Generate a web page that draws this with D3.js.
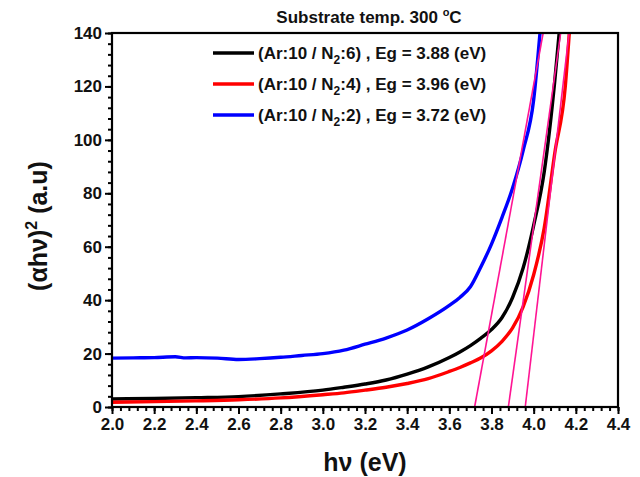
<!DOCTYPE html>
<html>
<head>
<meta charset="utf-8">
<script src="https://cdn.jsdelivr.net/npm/d3@7"></script>
<style>
  body { margin: 0; background: #fff; }
  text { font-family: "Liberation Sans", Arial, sans-serif; font-weight: bold; fill: #111; }
</style>
</head>
<body>
<div id="chart"></div>
<script>
var svgWidth = 640;
var svgHeight = 477;

var margin = { top: 33, right: 22, bottom: 70, left: 112 };

var width = svgWidth - margin.left - margin.right;
var height = svgHeight - margin.top - margin.bottom;

// data
var xN6 = [2.0, 2.2, 2.4, 2.6, 2.8, 3.0, 3.1, 3.2, 3.3, 3.4, 3.5, 3.6, 3.65, 3.7, 3.75, 3.8, 3.85, 3.9, 3.95, 4.0, 4.05, 4.1, 4.121];
var yN6 = [3.0, 3.2, 3.5, 3.9, 4.9, 6.3, 7.4, 8.6, 10.1, 12.3, 15.0, 18.5, 20.6, 23.0, 25.8, 29.0, 33.5, 41.0, 52.0, 68.0, 88.0, 122.0, 140.0];

var xN4 = [2.0, 2.2, 2.4, 2.6, 2.8, 3.0, 3.1, 3.2, 3.3, 3.4, 3.5, 3.6, 3.65, 3.7, 3.75, 3.8, 3.85, 3.9, 3.95, 4.0, 4.05, 4.1, 4.15, 4.169];
var yN4 = [1.8, 2.0, 2.3, 2.7, 3.4, 4.6, 5.3, 6.3, 7.4, 8.8, 10.6, 13.3, 14.8, 16.5, 18.4, 21.0, 24.6, 29.6, 37.5, 49.5, 67.0, 95.0, 120.0, 140.0];

var xN2 = [2.0, 2.1, 2.2, 2.3, 2.35, 2.4, 2.5, 2.6, 2.7, 2.8, 2.9, 3.0, 3.1, 3.2, 3.3, 3.4, 3.5, 3.6, 3.65, 3.7, 3.75, 3.8, 3.85, 3.9, 3.95, 4.0, 4.03];
var yN2 = [18.3, 18.4, 18.5, 18.8, 18.4, 18.5, 18.3, 17.8, 18.1, 18.6, 19.3, 20.0, 21.3, 23.5, 25.8, 28.8, 33.0, 38.0, 41.0, 45.0, 52.5, 61.0, 71.0, 82.0, 96.0, 115.0, 140.0];

var seriesNames = ["(Ar:10 / N|2|:6) , Eg = 3.88 (eV)", "(Ar:10 / N|2|:4) , Eg = 3.96 (eV)", "(Ar:10 / N|2|:2) , Eg = 3.72 (eV)"];
var seriesColors = ["#000000", "#ff0000", "#0000ff"];

// linear fits: x at zero and x where they leave the top of the frame
var fitStart = [3.88, 3.96, 3.72];
var fitEnd = [4.128, 4.168, 4.045];

var xTicks = [2.0, 2.2, 2.4, 2.6, 2.8, 3.0, 3.2, 3.4, 3.6, 3.8, 4.0, 4.2, 4.4];
var yTicks = [0, 20, 40, 60, 80, 100, 120, 140];

var svg = d3.select("#chart")
  .append("svg")
  .attr("width", svgWidth)
  .attr("height", svgHeight);

var Group = svg.append("g")
  .attr("transform", `translate(${margin.left}, ${margin.top})`);

var xScale = d3.scaleLinear().domain([2.0, 4.4]).range([0, width]);
var yScale = d3.scaleLinear().domain([0, 140]).range([height, 0]);

// minor ticks
var xAxisMinor = d3.axisBottom(xScale)
  .tickValues(d3.range(0, 61).map(i => 2.0 + i * 0.04))
  .tickSize(4).tickFormat("");
var yAxisMinor = d3.axisLeft(yScale)
  .tickValues(d3.range(0, 36).map(i => i * 4))
  .tickSize(4).tickFormat("");

Group.append("g").attr("transform", `translate(0, ${height})`).call(xAxisMinor);
Group.append("g").call(yAxisMinor);

var xAxis = d3.axisBottom(xScale).tickValues(xTicks).tickSize(7).tickPadding(4).tickFormat(d3.format(".1f"));
var yAxis = d3.axisLeft(yScale).tickValues(yTicks).tickSize(7).tickPadding(3);

Group.append("g").attr("class", "xaxis").attr("transform", `translate(0, ${height})`).call(xAxis);
Group.append("g").attr("class", "yaxis").call(yAxis);

Group.selectAll(".tick line").attr("stroke", "#000").attr("stroke-width", 2);
Group.selectAll(".domain").remove();
Group.selectAll(".tick text")
  .style("font-size", "17px")
  .style("font-family", "'Liberation Sans', Arial, sans-serif")
  .style("font-weight", "bold")
  .attr("fill", "#111");

// clip
svg.append("clipPath").attr("id", "plotclip")
  .append("rect").attr("x", 0).attr("y", 0).attr("width", width).attr("height", height);

var plot = Group.append("g").attr("clip-path", "url(#plotclip)");

var line = d3.line()
  .x(d => xScale(d[0]))
  .y(d => yScale(d[1]))
  .curve(d3.curveMonotoneX);

var curves = [
  { xs: xN2, ys: yN2, color: seriesColors[2] },
  { xs: xN6, ys: yN6, color: seriesColors[0] },
  { xs: xN4, ys: yN4, color: seriesColors[1] }
];

curves.forEach(function(c) {
  plot.append("path")
    .datum(c.xs.map((x, i) => [x, c.ys[i]]))
    .attr("fill", "none")
    .attr("stroke", c.color)
    .attr("stroke-width", 3.4)
    .attr("d", line);
});

// tangent lines
fitStart.forEach(function(x0, i) {
  plot.append("line")
    .attr("x1", xScale(x0)).attr("y1", yScale(0))
    .attr("x2", xScale(fitEnd[i])).attr("y2", yScale(140))
    .attr("stroke", "#ff1493")
    .attr("stroke-width", 1.6);
});

// frame
Group.append("rect")
  .attr("x", 0).attr("y", 0)
  .attr("width", width).attr("height", height)
  .attr("fill", "none")
  .attr("stroke", "#000")
  .attr("stroke-width", 2.2);

// legend
var legend = svg.append("g").attr("transform", "translate(213, 53)");
seriesNames.forEach(function(name, i) {
  var row = legend.append("g").attr("transform", `translate(0, ${i * 31})`);
  row.append("line")
    .attr("x1", 0).attr("x2", 41)
    .attr("stroke", seriesColors[i])
    .attr("stroke-width", 3.4);
  var parts = name.split("|");
  var t = row.append("text")
    .attr("x", 45).attr("y", 6)
    .style("font-size", "17px");
  t.append("tspan").text(parts[0]);
  t.append("tspan").attr("dy", 5).style("font-size", "12px").text(parts[1]);
  t.append("tspan").attr("dy", -5).text(parts[2]);
});

// title
var title = svg.append("text")
  .attr("x", 369).attr("y", 23)
  .attr("text-anchor", "middle")
  .style("font-size", "17px");
title.append("tspan").text("Substrate temp. 300 ");
title.append("tspan").attr("dy", -7).style("font-size", "11px").text("o");
title.append("tspan").attr("dy", 7).text("C");

// axis labels
svg.append("text")
  .attr("x", margin.left + width / 2)
  .attr("y", 471)
  .attr("text-anchor", "middle")
  .style("font-size", "25px")
  .text("h\u03bd (eV)");

var ylab = svg.append("text")
  .attr("transform", `translate(47, ${margin.top + height / 2 + 6}) rotate(-90)`)
  .attr("text-anchor", "middle")
  .style("font-size", "25px");
ylab.append("tspan").text("(\u03b1h\u03bd)");
ylab.append("tspan").attr("dy", -10).style("font-size", "16px").text("2");
ylab.append("tspan").attr("dy", 10).text(" (a.u)");
</script>
</body>
</html>
